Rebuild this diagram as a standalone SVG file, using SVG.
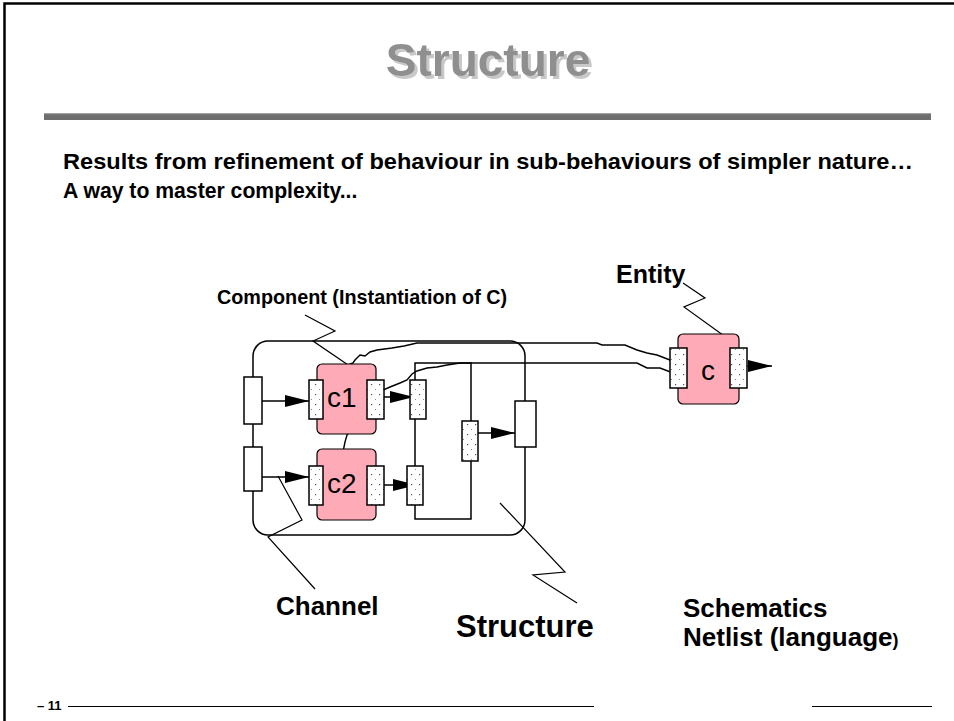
<svg xmlns="http://www.w3.org/2000/svg" width="954" height="721" viewBox="0 0 954 721">
  <defs>
    <pattern id="dots" width="8" height="10" patternUnits="userSpaceOnUse">
      <rect width="8" height="10" fill="#fff"/>
      <rect x="3" y="4" width="1.2" height="1.2" fill="#555"/>
      <rect x="7" y="9" width="1" height="1" fill="#888"/>
    </pattern>
    <marker id="arrow" viewBox="0 0 10 10" refX="10" refY="5" markerWidth="24" markerHeight="12" markerUnits="userSpaceOnUse" orient="auto" preserveAspectRatio="none">
      <path d="M0,0 L10,5 L0,10 Z" fill="#000"/>
    </marker>
    <filter id="shadow" x="-5%" y="-10%" width="115%" height="130%">
      <feOffset in="SourceAlpha" dx="2.5" dy="2.5" result="off"/>
      <feFlood flood-color="#c8c8c8"/>
      <feComposite in2="off" operator="in" result="sh"/>
      <feMerge>
        <feMergeNode in="sh"/>
        <feMergeNode in="SourceGraphic"/>
      </feMerge>
    </filter>
    <style>
      .frame { fill: none; stroke: #000; stroke-width: 2.5; }
      .txt { font-family: "Liberation Sans", Arial, sans-serif; font-weight: bold; fill: #000; }
      .title { font-family: "Liberation Sans", Arial, sans-serif; font-weight: bold; font-size: 46px; fill: #8f8f8f; }
      .line { fill: none; stroke: #000; stroke-width: 1.5; }
      .thin { fill: none; stroke: #000; stroke-width: 1.2; }
      .wire { fill: none; stroke: #000; stroke-width: 1.4; }
      .box { fill: #fff; stroke: #000; stroke-width: 1.5; }
      .port { fill: url(#dots); stroke: #000; stroke-width: 1.5; }
      .comp { fill: #ffabb7; stroke: #000; stroke-width: 1.2; }
      .lbl { font-family: "Liberation Sans", Arial, sans-serif; font-size: 28px; fill: #000; }
      .flow { fill: none; stroke: #000; stroke-width: 1.5; marker-end: url(#arrow); }
    </style>
  </defs>

  <!-- page frame -->
  <path class="frame" d="M4.5,730 V3.5 H960"/>

  <!-- title with drop shadow -->
  <text class="title" x="488" y="76" text-anchor="middle" filter="url(#shadow)">Structure</text>
  <rect x="44" y="113" width="887" height="7" fill="#6e6e6e"/>
  <rect x="44" y="113" width="887" height="1.2" fill="#a0a0a0"/>

  <!-- intro text -->
  <text class="txt" x="63" y="169" font-size="21.5" textLength="850" lengthAdjust="spacingAndGlyphs">Results from refinement of behaviour in sub-behaviours of simpler nature…</text>
  <text class="txt" x="63" y="198" font-size="21.2">A way to master complexity...</text>

  <!-- structure outline -->
  <g id="structure">
    <rect class="line" x="253" y="341" width="272" height="194" rx="15"/>
  </g>

  <!-- nets, flows and pointers -->
  <g id="connectors">
    <path class="line" d="M415,519 V363 H471 V519 Z"/>
    <path class="flow" d="M262,401 H309"/>
    <path class="flow" d="M262,477 H309"/>
    <path class="flow" d="M384,397 H414"/>
    <path class="flow" d="M384,485 H417"/>
    <path class="flow" d="M475,433 H515"/>
    <path class="flow" d="M747,366 H772"/>
    <!-- instantiation links from c1 / c2 to entity c -->
    <path class="wire" d="M337,373 Q340,366 346,366 L353,363 L355,360 L360,355 L365,356 L370,352 L377,350 L392,348 L404,346 L417,343 H597 L602,345 H625 L637,350 L647,353 L657,355 L670,360 L680,362 L690,366 L703,371"/>
    <path class="wire" d="M337,467 L337,460 L343,452 L345,442 L347,435 L352,428 L358,423 L365,417 L368,408 L372,402 L377,395 L383,390 L390,387 L400,383 L407,380 L412,374 L417,371 L427,368 L437,367 L447,365 L460,363 H637 L647,368 H660 L673,373 L703,373"/>
    <!-- label pointers -->
    <path class="thin" d="M305,315 L335,331 L313,341 L357,371"/>
    <path class="thin" d="M683,283 L705,298 L684,307 L727,338"/>
    <path class="thin" d="M278,476 L302,520 L268,537 L315,589"/>
    <path class="thin" d="M500,503 L565,572 L533,575 L577,603"/>
  </g>

  <!-- structure external ports -->
  <g id="in1"><rect class="box" x="244" y="377" width="18" height="47"/></g>
  <g id="in2"><rect class="box" x="244" y="447" width="18" height="44"/></g>
  <g id="out"><rect class="box" x="515" y="401" width="21" height="46"/></g>

  <!-- net junction ports -->
  <g id="n1"><rect class="port" x="410" y="380" width="16" height="39"/></g>
  <g id="n2"><rect class="port" x="407" y="466" width="16" height="39"/></g>
  <g id="n3"><rect class="port" x="462" y="421" width="16" height="40"/></g>

  <!-- component c1 -->
  <g id="c1">
    <rect class="comp" x="317" y="364" width="59" height="70" rx="5"/>
    <rect class="port" x="309" y="380" width="14" height="39"/>
    <rect class="port" x="367" y="380" width="17" height="39"/>
    <text class="lbl" x="327" y="407">c1</text>
  </g>

  <!-- component c2 -->
  <g id="c2">
    <rect class="comp" x="317" y="449" width="59" height="71" rx="5"/>
    <rect class="port" x="309" y="466" width="14" height="39"/>
    <rect class="port" x="367" y="466" width="17" height="39"/>
    <text class="lbl" x="327" y="493">c2</text>
  </g>

  <!-- entity c -->
  <g id="entity">
    <rect class="comp" x="678" y="334" width="61" height="70" rx="5"/>
    <rect class="port" x="670" y="348" width="17" height="40"/>
    <rect class="port" x="730" y="348" width="17" height="40"/>
    <text class="lbl" x="701" y="380">c</text>
  </g>

  <!-- labels -->
  <text class="txt" x="616" y="283" font-size="25">Entity</text>
  <text class="txt" x="217" y="304" font-size="19.8">Component (Instantiation of C)</text>
  <text class="txt" x="276" y="615" font-size="26">Channel</text>
  <text class="txt" x="456" y="637" font-size="31">Structure</text>
  <text class="txt" x="683" y="617" font-size="26">Schematics</text>
  <text class="txt" x="683" y="646" font-size="26">Netlist (language<tspan font-size="18">)</tspan></text>

  <!-- footer -->
  <text class="txt" x="37" y="710" font-size="13">– 11</text>
  <path d="M68,706.5 H594 M812,706.5 H932" stroke="#000" stroke-width="1.2"/>
</svg>
